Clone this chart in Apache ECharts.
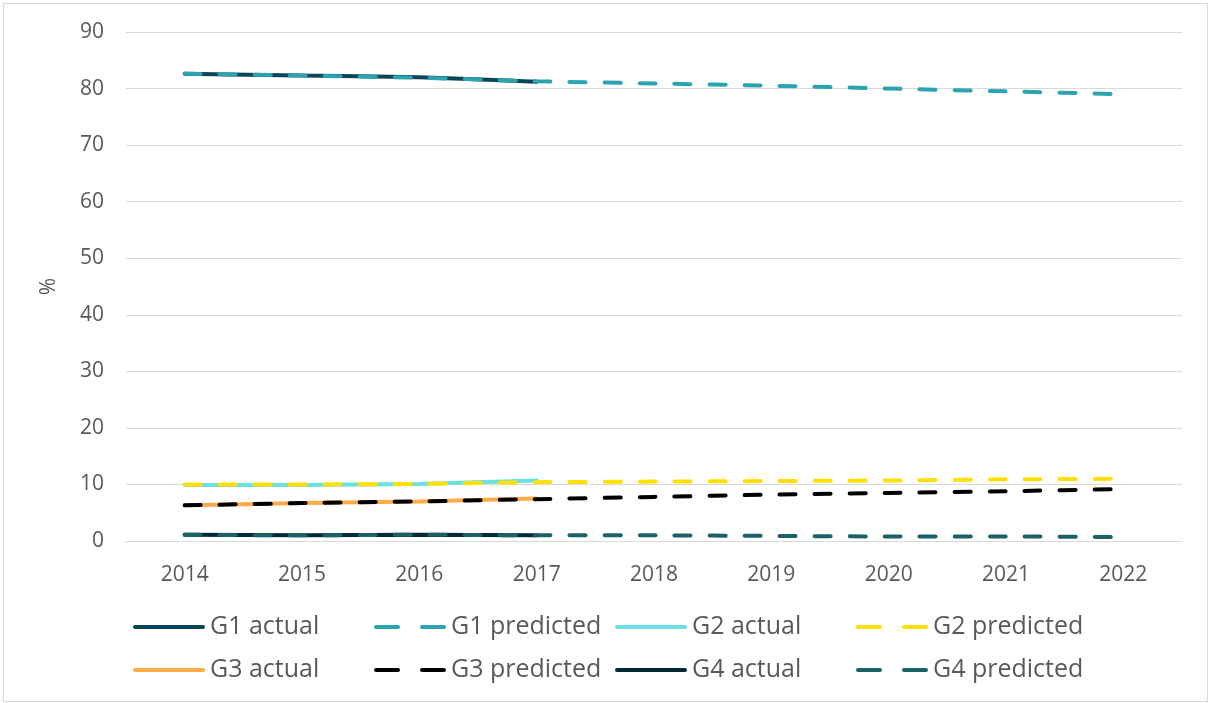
<!DOCTYPE html>
<html>
<head>
<meta charset="utf-8">
<script src="https://cdn.jsdelivr.net/npm/echarts@6/dist/echarts.min.js"></script>
<style>
  html, body { margin: 0; padding: 0; background: #fff; }
  #frame { position: absolute; left: 3px; top: 3px; width: 1203px; height: 697px; border: 1px solid #d9d9d9; }
  #chart { position: absolute; left: 0; top: 0; width: 1211px; height: 703px; }
</style>
</head>
<body>
<div id="frame"></div>
<div id="chart"></div>
<script>
const years = ['2014', '2015', '2016', '2017', '2018', '2019', '2020', '2021', '2022'];

const g1Actual = [82.6, 82.3, 82.0, 81.2, null, null, null, null, null];
const g1Predicted = [82.6, 82.3, 81.9, 81.3, 80.9, 80.5, 80.0, 79.5, 79.0];
const g2Actual = [9.9, 9.9, 10.1, 10.7, null, null, null, null, null];
const g2Predicted = [10.0, 10.0, 10.1, 10.4, 10.5, 10.6, 10.7, 10.9, 11.0];
const g3Actual = [6.3, 6.7, 7.0, 7.5, null, null, null, null, null];
const g3Predicted = [6.3, 6.7, 7.0, 7.4, 7.8, 8.2, 8.5, 8.8, 9.2];
const g4Actual = [1.1, 1.0, 1.1, 1.0, null, null, null, null, null];
const g4Predicted = [1.1, 1.0, 1.1, 1.0, 1.0, 0.9, 0.8, 0.8, 0.7];

const FONT = '"Open Sans", sans-serif';
const TXT = '#595959';

// legend icons: one rounded bar, or two rounded dashes
const SOLID_ICON = 'path://M2,0H70A2,2 0 0 1 70,4H2A2,2 0 0 1 2,0Z';
const DASH_ICON = 'path://M2,0H24A2,2 0 0 1 24,4H2A2,2 0 0 1 2,0Z M48,0H70A2,2 0 0 1 70,4H48A2,2 0 0 1 48,0Z';

const mk = (name, data, color, dashed) => ({
  name, type: 'line', data, symbol: 'none', smooth: 0.2, connectNulls: false,
  lineStyle: dashed
    ? { color, width: 4, type: [16, 19], cap: 'round' }
    : { color, width: 4, cap: 'round' },
  itemStyle: { color }
});

const series = [
  mk('G1 actual', g1Actual, '#0b4558', false),
  mk('G1 predicted', g1Predicted, '#2ba3b1', true),
  mk('G2 actual', g2Actual, '#6ce0e0', false),
  mk('G2 predicted', g2Predicted, '#ffe000', true),
  mk('G3 actual', g3Actual, '#ffaa44', false),
  mk('G3 predicted', g3Predicted, '#000000', true),
  mk('G4 actual', g4Actual, '#022a33', false),
  mk('G4 predicted', g4Predicted, '#1c6168', true)
];

// one legend per entry, 4 per row
const legendCols = [133, 374, 615, 856];
const legendRows = [612, 655];
const legends = series.map((s, i) => ({
  top: legendRows[Math.floor(i / 4)], left: legendCols[i % 4], padding: 0,
  itemWidth: 72, itemHeight: 4, selectedMode: false,
  textStyle: { color: TXT, fontFamily: FONT, fontSize: 25, lineHeight: 30, padding: [0, 0, 0, 0] },
  data: [{ name: s.name, icon: s.lineStyle.type ? DASH_ICON : SOLID_ICON }]
}));

const chart = echarts.init(document.getElementById('chart'), null, { renderer: 'canvas' });
chart.setOption({
  animation: false,
  backgroundColor: 'transparent',
  grid: { left: 126, right: 29, top: 32, bottom: 162, containLabel: false },
  legend: legends,
  xAxis: {
    type: 'category', data: years, boundaryGap: true,
    axisLine: { lineStyle: { color: '#d9d9d9', width: 1 } },
    axisTick: { show: false },
    axisLabel: { color: TXT, fontFamily: FONT, fontSize: 21, margin: 24 }
  },
  yAxis: {
    type: 'value', min: 0, max: 90, interval: 10,
    name: '%', nameLocation: 'middle', nameGap: 66, nameRotate: 90,
    nameTextStyle: { color: TXT, fontFamily: FONT, fontSize: 21 },
    axisLine: { show: false }, axisTick: { show: false },
    axisLabel: { color: TXT, fontFamily: FONT, fontSize: 21, margin: 22 },
    splitLine: { lineStyle: { color: '#d9d9d9', width: 1 } }
  },
  series
});
</script>
</body>
</html>
